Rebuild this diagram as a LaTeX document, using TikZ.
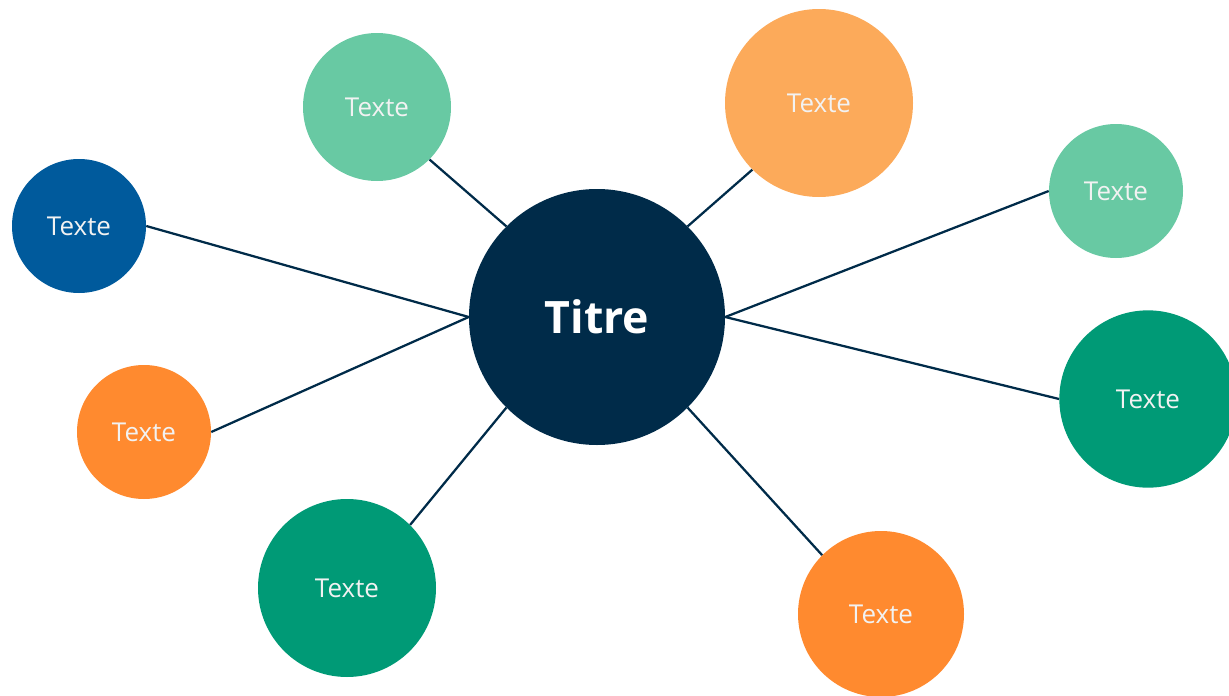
\documentclass[tikz,border=0pt]{standalone}
\usepackage{fontspec}
\setmainfont{Open Sans}
\usetikzlibrary{positioning}

\definecolor{navy}{HTML}{002B49}
\definecolor{mint}{HTML}{68C9A3}
\definecolor{peach}{HTML}{FCAA5A}
\definecolor{jade}{HTML}{009A76}
\definecolor{tangerine}{HTML}{FF8A2F}
\definecolor{ocean}{HTML}{005A9C}
\definecolor{paper}{HTML}{F2F2F2}

\begin{document}
\begin{tikzpicture}[
    x=0.75pt, y=-0.75pt,
    bubble/.style={circle, inner sep=0pt, text=paper, font=\fontsize{19.5}{23}\selectfont},
    title/.style={circle, fill=navy, inner sep=0pt, minimum size=192pt, text=white, font=\fontsize{33.5}{40}\selectfont\bfseries},
    link/.style={draw=navy, line width=1.7pt}
  ]
    \useasboundingbox (0,0) rectangle (1229,696);
    \node[title] (ttl) at (597,317) {Titre};
    \node[bubble, fill=mint, minimum size=111pt] (tl) at (377,107) {Texte};
    \node[bubble, fill=peach, minimum size=141pt] (tr) at (819,103) {Texte};
    \node[bubble, fill=mint, minimum size=100.5pt] (rt) at (1116,191) {Texte};
    \node[bubble, fill=jade, minimum size=133pt] (rb) at (1148,399) {Texte};
    \node[bubble, fill=tangerine, minimum size=124.5pt] (br) at (881,614) {Texte};
    \node[bubble, fill=jade, minimum size=133.5pt] (bl) at (347,588) {Texte};
    \node[bubble, fill=tangerine, minimum size=100.5pt] (lb) at (144,432) {Texte};
    \node[bubble, fill=ocean, minimum size=100.5pt] (lt) at (79,226) {Texte};
    \draw[link] (lt.east) -- (ttl.west);
    \draw[link] (lb.east) -- (ttl.west);
    \draw[link] (tl.south east) -- (ttl.north west);
    \draw[link] (tr.south west) -- (ttl.north east);
    \draw[link] (rt.west) -- (ttl.east);
    \draw[link] (rb.west) -- (ttl.east);
    \draw[link] (bl.north east) -- (ttl.south west);
    \draw[link] (br.north west) -- (ttl.south east);
  \end{tikzpicture}
\end{document}
